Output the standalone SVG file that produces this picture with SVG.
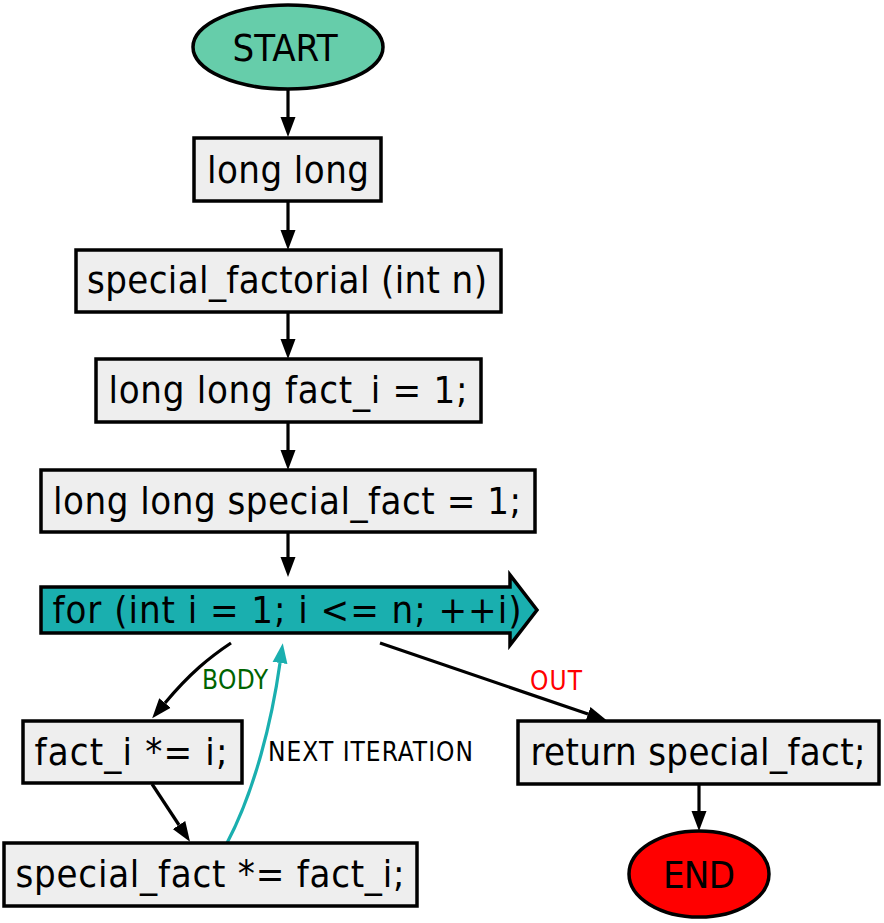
<svg xmlns="http://www.w3.org/2000/svg" width="884" height="923" viewBox="0 0 884 923">
<defs>
<style>
.box{fill:#eeeeee;stroke:#000;stroke-width:3.5}
.t{font-family:"DejaVu Sans Condensed","DejaVu Sans",sans-serif;font-size:38px;fill:#000;text-anchor:middle}
.lbl{font-family:"DejaVu Sans Condensed","DejaVu Sans",sans-serif;font-size:26px}
.e{fill:none;stroke:#000;stroke-width:3.2}
.et{fill:none;stroke:#1aafaf;stroke-width:3.2}
</style>
<marker id="ah" markerUnits="userSpaceOnUse" markerWidth="22" markerHeight="18" viewBox="0 -9 22 18" refX="0" refY="0" orient="auto">
<path d="M0,-7.5 L20,0 L0,7.5 Z" fill="#000"/>
</marker>
<marker id="aht" markerUnits="userSpaceOnUse" markerWidth="22" markerHeight="18" viewBox="0 -9 22 18" refX="0" refY="0" orient="auto">
<path d="M0,-7.5 L20,0 L0,7.5 Z" fill="#1aafaf"/>
</marker>
</defs>
<rect width="884" height="923" fill="#fff"/>
<g id="edges">
<path class="e" d="M288,89 L288,117" marker-end="url(#ah)"/>
<path class="e" d="M288,201 L288,230" marker-end="url(#ah)"/>
<path class="e" d="M288,312 L288,339" marker-end="url(#ah)"/>
<path class="e" d="M288,422 L288,450" marker-end="url(#ah)"/>
<path class="e" d="M288,532 L288,557" marker-end="url(#ah)"/>
<path class="e" d="M231,643 C210,657 190,673 165,703" marker-end="url(#ah)"/>
<text class="lbl" x="202" y="689" fill="#006400" textLength="66">BODY</text>
<path class="e" d="M152,784 L179,825" marker-end="url(#ah)"/>
<path class="et" d="M227,843 C255,790 272,720 280,663" marker-end="url(#aht)"/>
<text class="lbl" x="268" y="761" fill="#000" textLength="205">NEXT ITERATION</text>
<path class="e" d="M380,643 L588,714" marker-end="url(#ah)"/>
<text class="lbl" x="530" y="690" fill="#ff0000" textLength="52">OUT</text>
<path class="e" d="M699,784 L699,811" marker-end="url(#ah)"/>
</g>
<g id="start">
<ellipse cx="288" cy="47" rx="95" ry="42" fill="#66cdaa" stroke="#000" stroke-width="3.5"/>
<text class="t" x="285" y="61" textLength="105">START</text>
</g>
<g id="n1">
<rect class="box" x="194" y="138" width="187" height="63"/>
<text class="t" x="288" y="183" textLength="162">long long</text>
</g>
<g id="n2">
<rect class="box" x="76" y="250" width="425" height="62"/>
<text class="t" x="287" y="293" textLength="400">special_factorial (int n)</text>
</g>
<g id="n3">
<rect class="box" x="96" y="359" width="385" height="63"/>
<text class="t" x="288" y="403" textLength="359">long long fact_i = 1;</text>
</g>
<g id="n4">
<rect class="box" x="41" y="470" width="494" height="62"/>
<text class="t" x="287" y="514" textLength="468">long long special_fact = 1;</text>
</g>
<g id="loop">
<path d="M41,587 L510,587 L510,575 L537,610 L510,645 L510,633 L41,633 Z" fill="#1aafaf" stroke="#000" stroke-width="3.5"/>
<text class="t" x="287" y="623" textLength="469">for (int i = 1; i &lt;= n; ++i)</text>
</g>
<g id="body1">
<rect class="box" x="23" y="721" width="219" height="62"/>
<text class="t" x="131" y="765" textLength="193">fact_i *= i;</text>
</g>
<g id="body2">
<rect class="box" x="4" y="843" width="413" height="63"/>
<text class="t" x="210" y="887" textLength="389">special_fact *= fact_i;</text>
</g>
<g id="ret">
<rect class="box" x="518" y="721" width="361" height="63"/>
<text class="t" x="698" y="765" textLength="335">return special_fact;</text>
</g>
<g id="end">
<ellipse cx="699" cy="874" rx="70" ry="43" fill="#ff0000" stroke="#000" stroke-width="3.5"/>
<text class="t" x="699" y="888" textLength="72">END</text>
</g>
</svg>
